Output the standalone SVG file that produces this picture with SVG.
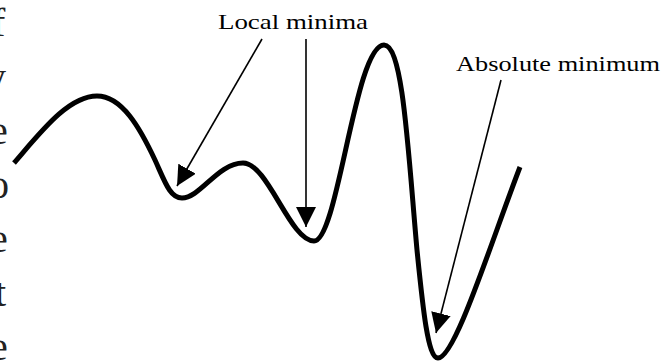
<svg xmlns="http://www.w3.org/2000/svg" width="666" height="363" viewBox="0 0 666 363">
<style>
.lbl{font-family:"Liberation Serif","Times New Roman",serif;font-size:22px;fill:#000}
.edge{font-family:"Liberation Serif","Times New Roman",serif;font-size:40px;fill:#222}
.arrow{stroke:#000;stroke-width:1.6;fill:none}
.curve{stroke:#000;stroke-width:5;fill:none;stroke-linejoin:round}
</style>
<defs>
<marker id="head" markerUnits="userSpaceOnUse" markerWidth="20" markerHeight="20" refX="20" refY="10" orient="auto">
<path d="M0,0 L20,10 L0,20 z" fill="#000"/>
</marker>
</defs>
<rect width="666" height="363" fill="#fff"/>
<g id="edge-text">
<text class="edge" x="-8" y="36">f</text>
<text class="edge" x="-14" y="90">y</text>
<text class="edge" x="-10" y="144">e</text>
<text class="edge" x="-11" y="198">o</text>
<text class="edge" x="-5" y="306">t</text>
<text class="edge" x="-10" y="252">e</text>
<text class="edge" x="-10" y="360">e</text>
</g>
<g id="curve">
<path class="curve" d="M14,163 C40,133 68,96 97,96 C122,96 140,128 155,160 C165,182 170,198 182,198 C200,198 218,163 243,163 C268,163 290,241 314,241 C338,241 355,45 384,45 C403,45 408,150 417,250 C423,310 428,358 438,358 C455,358 490,245 520,167"/>
</g>
<g id="label-local">
<text class="lbl" x="218" y="29" textLength="150" lengthAdjust="spacingAndGlyphs">Local minima</text>
</g>
<g id="label-absolute">
<text class="lbl" x="456" y="71" textLength="204" lengthAdjust="spacingAndGlyphs">Absolute minimum</text>
</g>
<g id="connectors">
<line class="arrow" x1="262" y1="39" x2="177" y2="186" marker-end="url(#head)"/>
<line class="arrow" x1="306" y1="39" x2="306" y2="227" marker-end="url(#head)"/>
<line class="arrow" x1="501" y1="80" x2="436" y2="333" marker-end="url(#head)"/>
</g>
</svg>
